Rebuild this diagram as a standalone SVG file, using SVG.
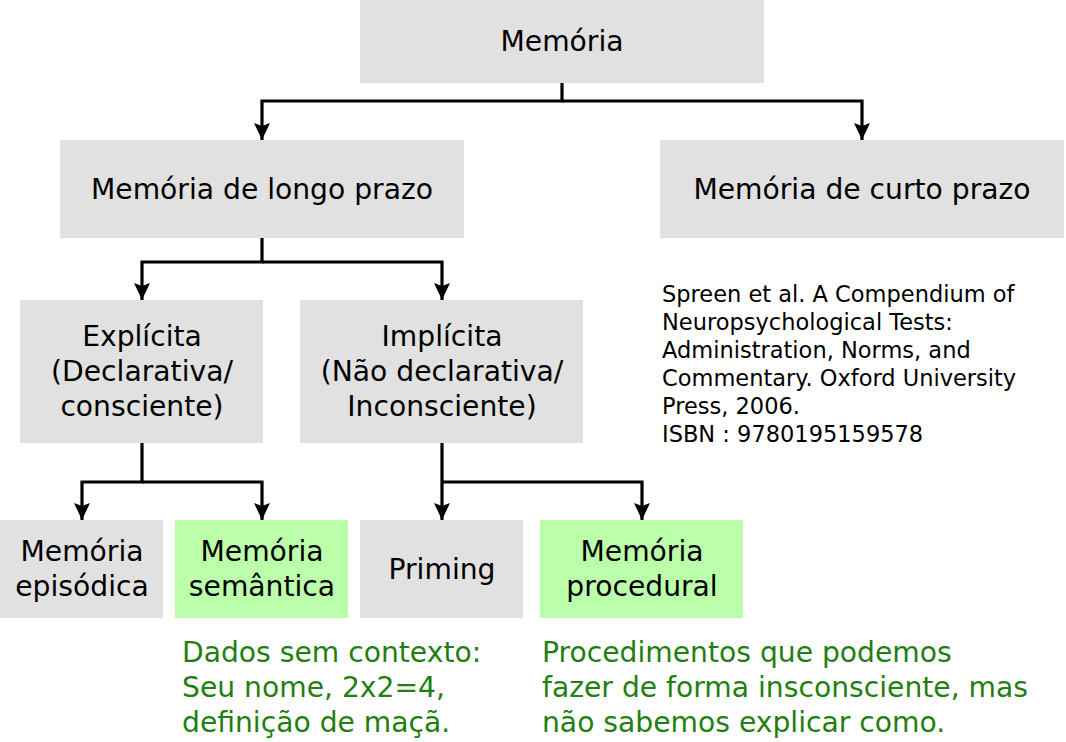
<svg xmlns="http://www.w3.org/2000/svg" width="1066" height="742" viewBox="0 0 1066 742">
<style>
.box{fill:#e1e1e1}
.grn{fill:#bbffaa}
.t{font-family:"DejaVu Sans",sans-serif;font-size:28.2px;fill:#000;text-anchor:middle}
.c{font-family:"DejaVu Sans",sans-serif;font-size:22.5px;fill:#000}
.g{font-family:"DejaVu Sans",sans-serif;font-size:28.2px;fill:#1f7f0f}
.ln{fill:none;stroke:#000;stroke-width:3.2}
</style>
<defs>
<marker id="ah" viewBox="0 0 17 16" refX="17" refY="8" markerWidth="17" markerHeight="16" orient="auto" markerUnits="userSpaceOnUse">
<path d="M0,0 L17,8 L0,16 L3,8 Z" fill="#000"/>
</marker>
</defs>
<rect width="1066" height="742" fill="#fff"/>
<g id="connectors">
<path class="ln" d="M562,83 V101 H262 V140" marker-end="url(#ah)"/>
<path class="ln" d="M562,101 H862 V140" marker-end="url(#ah)"/>
<path class="ln" d="M262,238 V262 H142 V300" marker-end="url(#ah)"/>
<path class="ln" d="M262,262 H442 V300" marker-end="url(#ah)"/>
<path class="ln" d="M142,443 V482 H82 V520" marker-end="url(#ah)"/>
<path class="ln" d="M142,482 H262 V520" marker-end="url(#ah)"/>
<path class="ln" d="M442,443 V520" marker-end="url(#ah)"/>
<path class="ln" d="M442,482 H642 V520" marker-end="url(#ah)"/>
</g>
<g id="memoria"><rect class="box" x="360" y="0" width="404" height="83"/><text class="t" x="562" y="51">Memória</text></g>
<g id="longo"><rect class="box" x="60" y="140" width="404" height="98"/><text class="t" x="262" y="199">Memória de longo prazo</text></g>
<g id="curto"><rect class="box" x="660" y="140" width="404" height="98"/><text class="t" x="862" y="199">Memória de curto prazo</text></g>
<g id="explicita"><rect class="box" x="20" y="300" width="243" height="143"/><text class="t" x="142" y="346">Explícita</text><text class="t" x="142" y="381">(Declarativa/</text><text class="t" x="142" y="416">consciente)</text></g>
<g id="implicita"><rect class="box" x="300" y="300" width="283" height="143"/><text class="t" x="442" y="346">Implícita</text><text class="t" x="442" y="381">(Não declarativa/</text><text class="t" x="442" y="416">Inconsciente)</text></g>
<g id="episodica"><rect class="box" x="0" y="520" width="163" height="98"/><text class="t" x="82" y="561">Memória</text><text class="t" x="82" y="596">episódica</text></g>
<g id="semantica"><rect class="grn" x="175" y="520" width="173" height="98"/><text class="t" x="262" y="561">Memória</text><text class="t" x="262" y="596">semântica</text></g>
<g id="priming"><rect class="box" x="360" y="520" width="163" height="98"/><text class="t" x="442" y="579">Priming</text></g>
<g id="procedural"><rect class="grn" x="540" y="520" width="203" height="98"/><text class="t" x="642" y="561">Memória</text><text class="t" x="642" y="596">procedural</text></g>
<g id="citation">
<text class="c" x="662" y="302">Spreen et al. A Compendium of</text>
<text class="c" x="662" y="330">Neuropsychological Tests:</text>
<text class="c" x="662" y="358">Administration, Norms, and</text>
<text class="c" x="662" y="386">Commentary. Oxford University</text>
<text class="c" x="662" y="414">Press, 2006.</text>
<text class="c" x="662" y="442">ISBN : 9780195159578</text>
</g>
<g id="note-semantica">
<text class="g" x="182" y="662">Dados sem contexto:</text>
<text class="g" x="182" y="697">Seu nome, 2x2=4,</text>
<text class="g" x="182" y="732">definição de maçã.</text>
</g>
<g id="note-procedural">
<text class="g" x="542" y="662">Procedimentos que podemos</text>
<text class="g" x="542" y="697">fazer de forma insconsciente, mas</text>
<text class="g" x="542" y="732">não sabemos explicar como.</text>
</g>
</svg>
